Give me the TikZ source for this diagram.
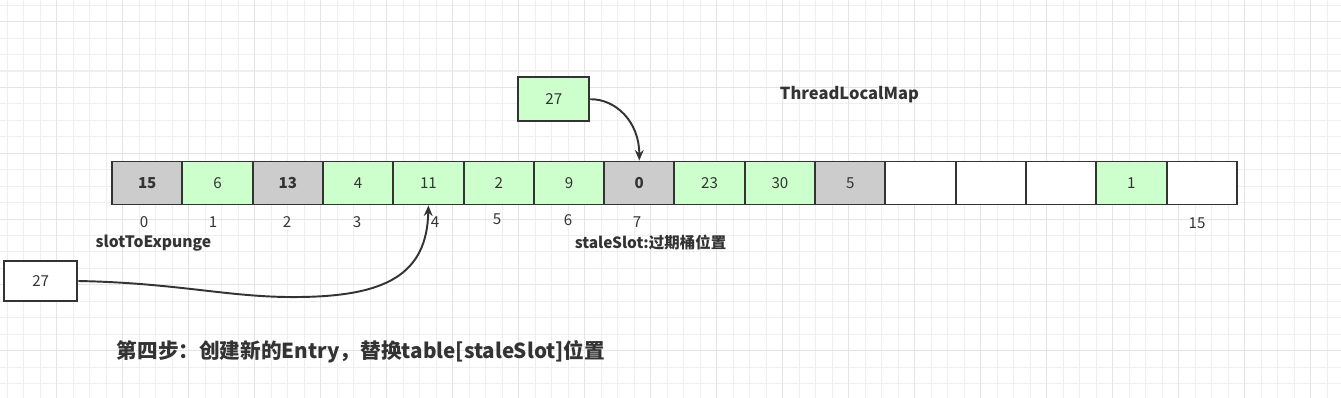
\documentclass[tikz,border=0pt]{standalone}
\usepackage{fontspec}
\setmainfont{Noto Sans CJK SC}
\usetikzlibrary{arrows.meta}
\definecolor{gfill}{HTML}{CCFFCC}
\definecolor{grayfill}{HTML}{CCCCCC}
\definecolor{edge}{HTML}{333333}
\definecolor{txt}{HTML}{333333}
\definecolor{gridminor}{HTML}{EFEFEF}
\definecolor{gridmajor}{HTML}{E4E4E4}
\tikzset{
  cell/.style={draw=edge, line width=1.1pt, minimum width=1.406cm, minimum height=0.86cm, inner sep=0pt, text=txt, font=\fontsize{8.6}{10}\selectfont},
  idx/.style={text=txt, inner sep=0pt, font=\fontsize{8.6}{10}\selectfont},
  lbl/.style={text=txt, inner sep=0pt, font=\fontsize{8.9}{10}\selectfont\bfseries},
  conn/.style={draw=edge, line width=1.1pt, -{Stealth[length=6pt,width=5pt]}},
  gminor/.style={draw=gridminor, line width=0.6pt},
  gmajor/.style={draw=gridmajor, line width=0.6pt}
}
\begin{document}
\begin{tikzpicture}[x=0.02cm,y=-0.02cm]
\useasboundingbox (0,0) rectangle (1341,398);
\fill[white] (0,0) rectangle (1341,398);
% grid
\foreach \k in {0,...,80} {\pgfmathsetmacro\xx{7.3+16.5*\k} \draw[gminor] (\xx,0) -- (\xx,398);}
\foreach \k in {0,...,23} {\pgfmathsetmacro\yy{5.2+16.45*\k} \draw[gminor] (0,\yy) -- (1341,\yy);}
\foreach \k in {3,7,...,79} {\pgfmathsetmacro\xx{7.3+16.5*\k} \draw[gmajor] (\xx,0) -- (\xx,398);}
\foreach \k in {1,5,...,21} {\pgfmathsetmacro\yy{5.2+16.45*\k} \draw[gmajor] (0,\yy) -- (1341,\yy);}
% array cells
\node[cell, fill=grayfill, font=\fontsize{8.6}{10}\selectfont\bfseries] (c0) at (147.2,183) {15};
\node[cell, fill=gfill] (c1) at (217.5,183) {6};
\node[cell, fill=grayfill, font=\fontsize{8.6}{10}\selectfont\bfseries] (c2) at (287.8,183) {13};
\node[cell, fill=gfill] (c3) at (358.1,183) {4};
\node[cell, fill=gfill] (c4) at (428.4,183) {11};
\node[cell, fill=gfill] (c5) at (498.7,183) {2};
\node[cell, fill=gfill] (c6) at (569.0,183) {9};
\node[cell, fill=grayfill, font=\fontsize{8.6}{10}\selectfont\bfseries] (c7) at (639.3,183) {0};
\node[cell, fill=gfill] (c8) at (709.6,183) {23};
\node[cell, fill=gfill] (c9) at (779.9,183) {30};
\node[cell, fill=grayfill] (c10) at (850.2,183) {5};
\node[cell, fill=white] (c11) at (920.5,183) {};
\node[cell, fill=white] (c12) at (990.8,183) {};
\node[cell, fill=white] (c13) at (1061.1,183) {};
\node[cell, fill=gfill] (c14) at (1131.4,183) {1};
\node[cell, fill=white] (c15) at (1201.7,183) {};
% index labels
\node[idx] (i0) at (144,222) {0};
\node[idx] (i1) at (213,222) {1};
\node[idx] (i2) at (287,222) {2};
\node[idx] (i3) at (357,222) {3};
\node[idx] (i4) at (435,222) {4};
\node[idx] (i5) at (497,219) {5};
\node[idx] (i6) at (568,220) {6};
\node[idx] (i7) at (637,222) {7};
\node[idx] (i15) at (1197,223) {15};
% labels
\node[lbl] (slot) at (153.5,243) {slotToExpunge};
\node[lbl, font=\fontsize{8.8}{10}\selectfont\bfseries] (stale) at (650.5,243) {staleSlot:过期桶位置};
\node[lbl, font=\fontsize{9.4}{11}\selectfont\bfseries] (tlm) at (849.5,95) {ThreadLocalMap};
\node[text=txt, inner sep=0pt, font=\fontsize{11.75}{14}\selectfont\bfseries] (title) at (361,352) {第四步：创建新的Entry，替换table[staleSlot]位置};
% entry boxes
\node[cell, fill=gfill, minimum width=1.42cm, minimum height=0.874cm] (t27) at (553.8,99.2) {27};
\node[cell, fill=white, minimum width=1.466cm, minimum height=0.8cm] (b27) at (40.7,281) {27};
% connectors
\draw[conn] (t27.east) .. controls (616,99) and (639.3,122) .. (c7.north);
\coordinate (mid) at (300,297);
\draw[conn] (b27.east) .. controls (180,283) and (230,298) .. (mid) .. controls (385,296) and (427,275) .. (c4.south);
\end{tikzpicture}
\end{document}
